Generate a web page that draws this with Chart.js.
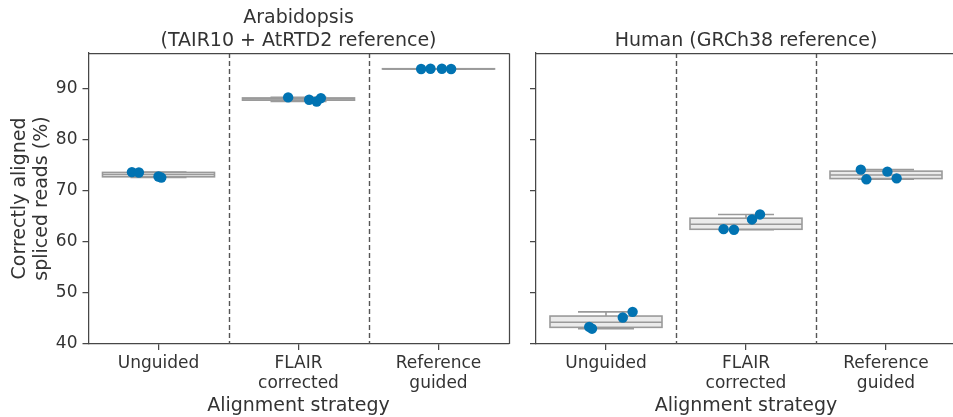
<!DOCTYPE html>
<html>
<head>
<meta charset="utf-8">
<script src="https://cdn.jsdelivr.net/npm/chart.js@4/dist/chart.umd.min.js"></script>
<style>
  html, body { margin: 0; padding: 0; background: #fff; overflow: hidden; }
  #wrap { position: relative; width: 953px; height: 417px; overflow: hidden; }
  canvas { position: absolute; top: 0; }
  #left { left: 0; }
  #right { left: 520px; }
</style>
</head>
<body>
<div id="wrap">
  <canvas id="left" width="520" height="417"></canvas>
  <canvas id="right" width="437" height="417"></canvas>
</div>
<script>
// Alignment strategies (tick labels, one entry per line)
const categories = [["Unguided"], ["FLAIR", "corrected"], ["Reference", "guided"]];
const yTicks = [40, 50, 60, 70, 80, 90];

// Correctly aligned spliced reads (%) per replicate
const arabidopsisUnguided  = [73.67, 73.59, 72.80, 72.60];
const arabidopsisFlair     = [88.30, 87.84, 87.50, 88.17];
const arabidopsisReference = [93.86, 93.92, 93.92, 93.86];
const humanUnguided  = [43.35, 43.00, 45.20, 46.30];
const humanFlair     = [62.50, 62.38, 64.40, 65.38];
const humanReference = [74.15, 72.26, 73.76, 72.45];

// Horizontal strip jitter of each replicate point, in category widths
const arabidopsisJitter = [
  [-0.19, -0.14, 0.00, 0.02],
  [-0.074, 0.076, 0.13, 0.16],
  [-0.124, -0.057, 0.024, 0.09]
];
const humanJitter = [
  [-0.12, -0.10, 0.12, 0.19],
  [-0.16, -0.086, 0.043, 0.10],
  [-0.18, -0.14, 0.01, 0.076]
];

const FONT = "'DejaVu Sans', sans-serif";
const TEXT = '#333333';
const SPINE = '#474747';
const BOX_EDGE = '#9a9a9a';
const BOX_FACE = '#ebebeb';
const POINT = '#0173b2';

function quantile(sorted, p) {
  const pos = (sorted.length - 1) * p;
  const lo = Math.floor(pos), hi = Math.ceil(pos);
  return sorted[lo] + (sorted[hi] - sorted[lo]) * (pos - lo);
}

function boxStats(values) {
  const s = [...values].sort((a, b) => a - b);
  const q1 = quantile(s, 0.25), med = quantile(s, 0.5), q3 = quantile(s, 0.75);
  const iqr = q3 - q1;
  const lo = s.filter(v => v >= q1 - 1.5 * iqr)[0];
  const hiArr = s.filter(v => v <= q3 + 1.5 * iqr);
  return { q1, med, q3, lo, hi: hiArr[hiArr.length - 1] };
}

// Dashed separators between strategies and box-and-whisker glyphs under the points
function makeBoxPlugin(groups) {
  return {
    id: 'boxes',
    beforeDatasetsDraw(chart) {
      const { ctx, chartArea } = chart;
      const xs = chart.scales.x, ys = chart.scales.y;
      ctx.save();
      ctx.strokeStyle = '#555555';
      ctx.lineWidth = 1.4;
      ctx.setLineDash([5, 3]);
      for (let i = 0; i < groups.length - 1; i++) {
        const x = Math.round(xs.getPixelForValue(i + 0.5)) + 0.5;
        ctx.beginPath();
        ctx.moveTo(x, chartArea.top);
        ctx.lineTo(x, chartArea.bottom);
        ctx.stroke();
      }
      ctx.setLineDash([]);
      ctx.lineWidth = 1.6;
      ctx.strokeStyle = BOX_EDGE;
      groups.forEach((vals, i) => {
        const st = boxStats(vals);
        const x0 = xs.getPixelForValue(i - 0.4), x1 = xs.getPixelForValue(i + 0.4);
        const xc = xs.getPixelForValue(i);
        const c0 = xs.getPixelForValue(i - 0.2), c1 = xs.getPixelForValue(i + 0.2);
        const yq1 = ys.getPixelForValue(st.q1), yq3 = ys.getPixelForValue(st.q3);
        const ym = ys.getPixelForValue(st.med);
        const ylo = ys.getPixelForValue(st.lo), yhi = ys.getPixelForValue(st.hi);
        // whiskers and caps
        ctx.beginPath();
        ctx.moveTo(xc, yq3); ctx.lineTo(xc, yhi);
        ctx.moveTo(xc, yq1); ctx.lineTo(xc, ylo);
        ctx.moveTo(c0, yhi); ctx.lineTo(c1, yhi);
        ctx.moveTo(c0, ylo); ctx.lineTo(c1, ylo);
        ctx.stroke();
        // box
        ctx.fillStyle = BOX_FACE;
        ctx.fillRect(x0, yq3, x1 - x0, yq1 - yq3);
        ctx.strokeRect(x0, yq3, x1 - x0, yq1 - yq3);
        // median
        ctx.beginPath();
        ctx.moveTo(x0, ym); ctx.lineTo(x1, ym);
        ctx.stroke();
      });
      ctx.restore();
    }
  };
}

// Top (and optionally right) spines of the axes frame
function makeFramePlugin(withRight) {
  return {
    id: 'frame',
    afterDraw(chart) {
      const { ctx, chartArea } = chart;
      ctx.save();
      ctx.strokeStyle = SPINE;
      ctx.lineWidth = 1.25;
      const top = Math.round(chartArea.top) + 0.5;
      ctx.beginPath();
      ctx.moveTo(chartArea.left, top);
      ctx.lineTo(chartArea.right + 1, top);
      if (withRight) {
        const r = Math.round(chartArea.right) + 0.5;
        ctx.moveTo(r, top);
        ctx.lineTo(r, chartArea.bottom);
      }
      ctx.stroke();
      ctx.restore();
    }
  };
}

function makePanel(id, cfg) {
  const points = [];
  cfg.groups.forEach((vals, i) => {
    vals.forEach((v, k) => points.push({ x: i + cfg.jitter[i][k], y: v }));
  });
  return new Chart(document.getElementById(id), {
    type: 'scatter',
    data: {
      datasets: [{
        data: points,
        backgroundColor: POINT,
        borderColor: POINT,
        borderWidth: 0,
        pointRadius: 5.2,
        pointHoverRadius: 5.2,
        clip: false
      }]
    },
    options: {
      responsive: false,
      animation: false,
      events: [],
      layout: { autoPadding: false, padding: { left: 0, right: cfg.padRight, top: 0, bottom: 0 } },
      plugins: {
        legend: { display: false },
        tooltip: { enabled: false },
        title: {
          display: true,
          fullSize: false,
          text: cfg.title,
          color: TEXT,
          font: { family: FONT, size: 19, weight: 'normal', lineHeight: 1.2 },
          padding: cfg.titlePadding
        }
      },
      scales: {
        x: {
          type: 'linear',
          min: -0.5,
          max: 2.5,
          afterBuildTicks: s => { s.ticks = categories.map((c, i) => ({ value: i })); },
          afterFit: s => { s.height = 73; s.paddingLeft = 0; s.paddingRight = 0; },
          ticks: {
            callback: v => categories[v],
            autoSkip: false,
            maxRotation: 0,
            color: TEXT,
            padding: 3,
            font: { family: FONT, size: 17, lineHeight: 1.2 }
          },
          grid: { drawOnChartArea: false, drawTicks: true, tickLength: 6, color: SPINE, lineWidth: 1.25 },
          border: { display: true, color: SPINE, width: 1.25 },
          title: {
            display: true,
            text: 'Alignment strategy',
            color: TEXT,
            font: { family: FONT, size: 19, lineHeight: 1.2 },
            padding: { top: 0, bottom: 0 }
          }
        },
        y: {
          min: 40,
          max: 97,
          afterBuildTicks: s => { s.ticks = yTicks.map(v => ({ value: v })); },
          afterFit: s => { s.width = cfg.yWidth; s.paddingTop = 0; s.paddingBottom = 0; },
          ticks: {
            display: cfg.yLabels,
            color: TEXT,
            padding: 5,
            font: { family: FONT, size: 17 }
          },
          grid: { drawOnChartArea: false, drawTicks: true, tickLength: 6, color: SPINE, lineWidth: 1.25 },
          border: { display: true, color: SPINE, width: 1.25 },
          title: {
            display: cfg.yLabels,
            text: ['Correctly aligned', 'spliced reads (%)'],
            color: TEXT,
            font: { family: FONT, size: 19, lineHeight: 1.16 },
            padding: { top: 9, bottom: 0 }
          }
        }
      }
    },
    plugins: [makeBoxPlugin(cfg.groups), makeFramePlugin(cfg.rightSpine)]
  });
}

makePanel('left', {
  groups: [arabidopsisUnguided, arabidopsisFlair, arabidopsisReference],
  jitter: arabidopsisJitter,
  title: ['Arabidopsis', '(TAIR10 + AtRTD2 reference)'],
  titlePadding: { top: 7, bottom: 0.4 },
  padRight: 11.5,
  yWidth: 88.5,
  yLabels: true,
  rightSpine: true
});

makePanel('right', {
  groups: [humanUnguided, humanFlair, humanReference],
  jitter: humanJitter,
  title: 'Human (GRCh38 reference)',
  titlePadding: { top: 29.8, bottom: 0.4 },
  padRight: 1,
  yWidth: 16,
  yLabels: false,
  rightSpine: false
});
</script>
</body>
</html>
